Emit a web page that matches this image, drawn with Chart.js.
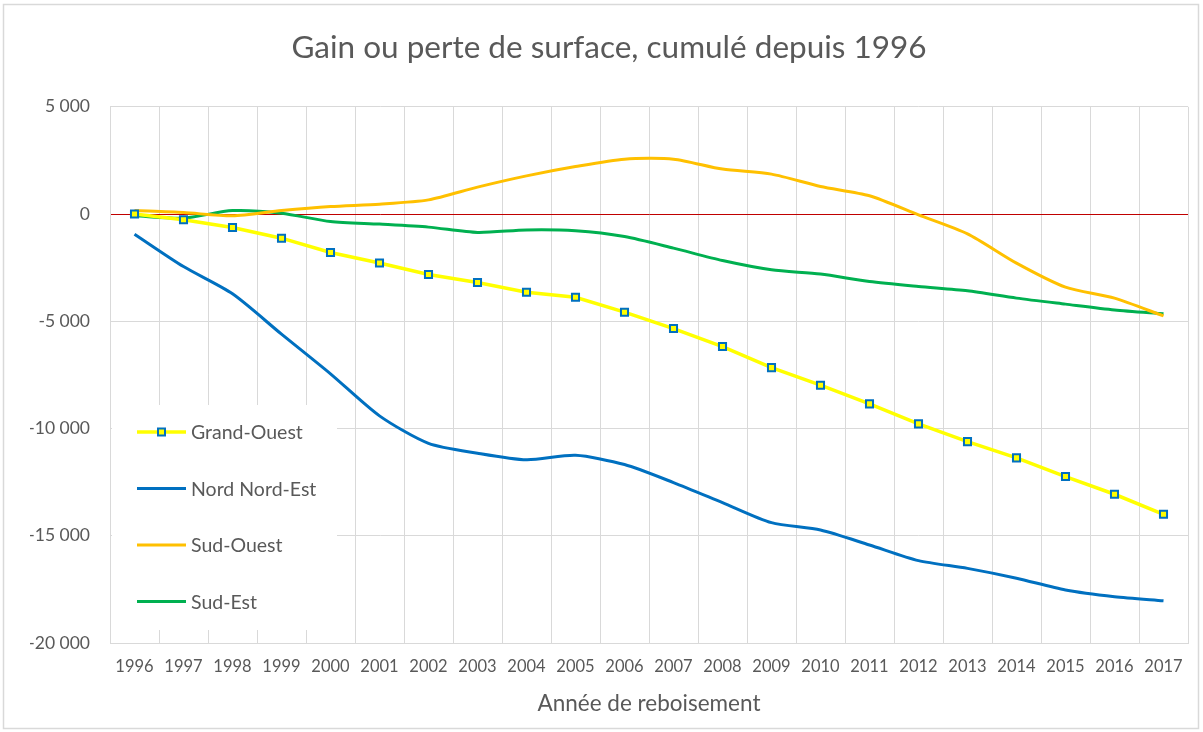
<!DOCTYPE html>
<html>
<head>
<meta charset="utf-8">
<script src="https://cdn.jsdelivr.net/npm/chart.js@4/dist/chart.umd.min.js"></script>
<style>
  body { margin: 0; background: #fff; }
</style>
</head>
<body>
<canvas id="graphique" width="1203" height="732"></canvas>
<script>
// Données
const years = ['1996','1997','1998','1999','2000','2001','2002','2003','2004','2005','2006',
               '2007','2008','2009','2010','2011','2012','2013','2014','2015','2016','2017'];
const grandOuest = [0, -270, -630, -1125, -1795, -2280, -2820, -3195, -3645, -3880, -4575,
                    -5340, -6180, -7160, -7980, -8850, -9785, -10610, -11370, -12240, -13065, -14000];
const nordNordEst = [-940, -2450, -3720, -5600, -7450, -9410, -10690, -11150, -11460, -11250, -11680,
                     -12520, -13455, -14390, -14730, -15430, -16160, -16520, -16980, -17530, -17840, -18030];
const sudOuest = [160, 70, -85, 160, 350, 460, 660, 1255, 1780, 2215, 2560,
                  2560, 2095, 1860, 1285, 850, -40, -925, -2290, -3410, -3920, -4750];
const sudEst = [-85, -190, 160, 40, -350, -470, -610, -860, -740, -780, -1050,
                -1590, -2170, -2600, -2800, -3150, -3380, -3580, -3920, -4200, -4470, -4650];
const yTicks = [5000, 0, -5000, -10000, -15000, -20000];

const FONT = 'Lato, "Open Sans", sans-serif';
const GREY = '#595959';
const GRID = '#d9d9d9';

function formatNombre(v) {
  const s = String(Math.abs(v)).replace(/\B(?=(\d{3})+(?!\d))/g, ' ');
  return (v < 0 ? '-' : '') + s;
}

// cadre + fond blanc
const cadre = {
  id: 'cadre',
  beforeDraw(chart) {
    const c = chart.ctx;
    c.save();
    c.fillStyle = '#fff';
    c.fillRect(0, 0, chart.width, chart.height);
    c.strokeStyle = GRID;
    c.lineWidth = 1.5;
    c.strokeRect(3.5, 4.5, 1195, 724);
    c.restore();
  }
};

// légende dans la zone du graphique, comme dans Excel
const legendeInterne = {
  id: 'legendeInterne',
  beforeDatasetsDraw(chart) {
    const c = chart.ctx;
    c.save();
    c.fillStyle = '#fff';
    c.fillRect(112, 405, 225, 225);
    c.font = '19.5px ' + FONT;
    c.textBaseline = 'middle';
    chart.data.datasets.forEach((ds, i) => {
      const y = 432 + i * 56.5;
      c.strokeStyle = ds.borderColor;
      c.lineWidth = ds.borderWidth;
      c.beginPath();
      c.moveTo(137, y);
      c.lineTo(186, y);
      c.stroke();
      if (ds.pointRadius > 0) {
        c.fillStyle = ds.pointBackgroundColor;
        c.strokeStyle = ds.pointBorderColor;
        c.lineWidth = ds.pointBorderWidth;
        c.fillRect(158, y - 3.5, 7, 7);
        c.strokeRect(158, y - 3.5, 7, 7);
      }
      c.fillStyle = GREY;
      c.fillText(ds.label, 191, y + 1);
    });
    c.restore();
  }
};

const ctx = document.getElementById('graphique').getContext('2d');
const chart = new Chart(ctx, {
  type: 'line',
  data: {
    labels: years,
    datasets: [
      {
        label: 'Grand-Ouest',
        data: grandOuest,
        borderColor: '#ffff00',
        borderWidth: 3.5,
        pointStyle: 'rect',
        pointRadius: 5,
        pointBackgroundColor: '#ffff00',
        pointBorderColor: '#0070c0',
        pointBorderWidth: 2,
        tension: 0
      },
      {
        label: 'Nord Nord-Est',
        data: nordNordEst,
        borderColor: '#0070c0',
        borderWidth: 3,
        pointRadius: 0,
        tension: 0.25
      },
      {
        label: 'Sud-Ouest',
        data: sudOuest,
        borderColor: '#ffc000',
        borderWidth: 3,
        pointRadius: 0,
        tension: 0.25
      },
      {
        label: 'Sud-Est',
        data: sudEst,
        borderColor: '#00b050',
        borderWidth: 3,
        pointRadius: 0,
        tension: 0.25
      }
    ]
  },
  options: {
    responsive: false,
    animation: false,
    devicePixelRatio: 1,
    layout: { padding: { left: 30, right: 15, top: 0, bottom: 10 } },
    scales: {
      x: {
        offset: true,
        afterFit: s => { s.height = 79; },
        grid: { offset: true, color: GRID, drawTicks: false },
        border: { color: GRID },
        ticks: { color: GREY, font: { family: FONT, size: 16.5 }, padding: 14, maxRotation: 0, autoSkip: false },
        title: {
          display: true,
          text: 'Année de reboisement',
          color: GREY,
          font: { family: FONT, size: 22.5 },
          padding: { top: 4, bottom: 4.5 }
        }
      },
      y: {
        min: -20000,
        max: 5000,
        afterFit: s => { s.width = 80; },
        afterBuildTicks: s => { s.ticks = yTicks.map(v => ({ value: v })); },
        grid: {
          drawTicks: false,
          color: c => (c.tick && c.tick.value === 0 ? '#c00000' : GRID)
        },
        border: { color: GRID },
        ticks: {
          color: GREY,
          font: { family: FONT, size: 17.5 },
          padding: 20,
          callback: v => formatNombre(v)
        }
      }
    },
    plugins: {
      legend: { display: false },
      tooltip: { enabled: false },
      title: {
        display: true,
        text: 'Gain ou perte de surface, cumulé depuis 1996',
        color: GREY,
        font: { family: FONT, size: 31.5, weight: 'normal' },
        padding: { top: 29, bottom: 40 }
      }
    }
  },
  plugins: [cadre, legendeInterne]
});
</script>
</body>
</html>
